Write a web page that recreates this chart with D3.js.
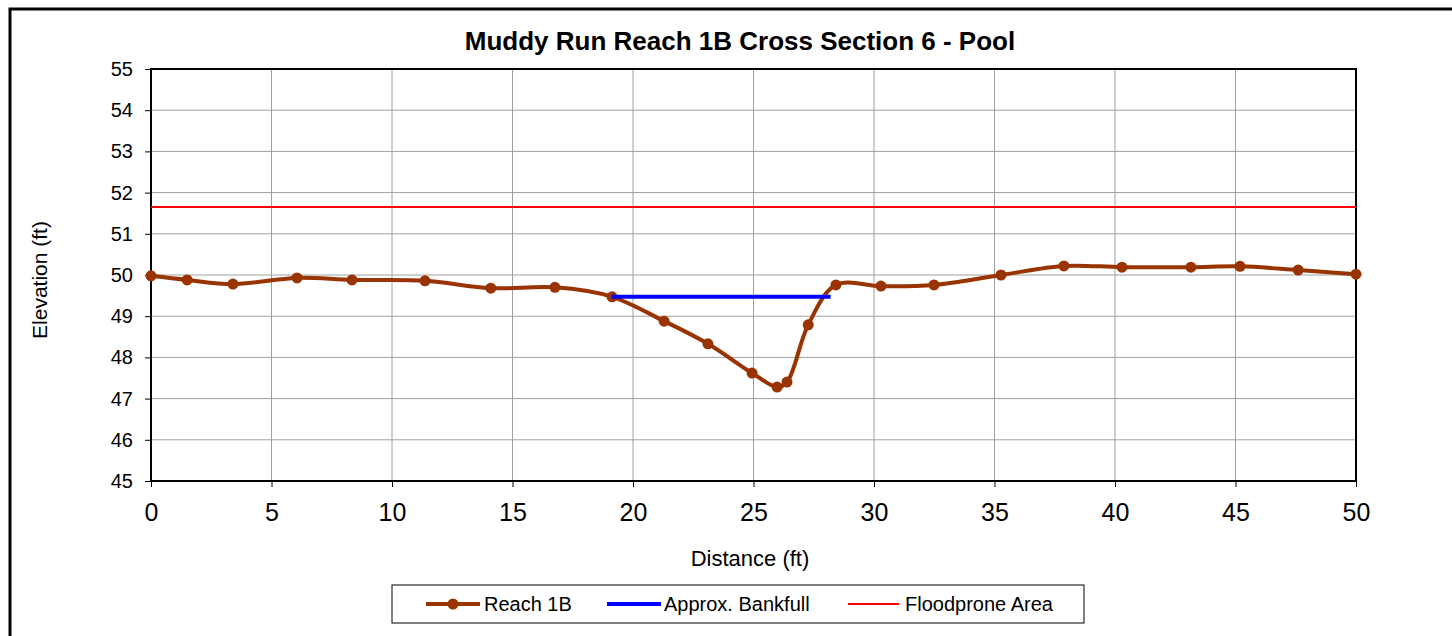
<!DOCTYPE html>
<html>
<head>
<meta charset="utf-8">
<script src="https://cdn.jsdelivr.net/npm/d3@7"></script>
<style>
  body { margin: 0; background: #fff; }
  svg { display: block; font-family: "Liberation Sans", Arial, sans-serif; }
</style>
</head>
<body>
<div id="chart"></div>
<script>
// Survey data
const distance  = [0, 1.5, 3.4, 6.06, 8.34, 11.37, 14.1, 16.76, 19.13, 21.29, 23.11, 24.94, 25.98, 26.39, 27.27, 28.42, 30.29, 32.49, 35.27, 37.88, 40.29, 43.15, 45.19, 47.6, 50];
const elevation = [49.98, 49.88, 49.78, 49.93, 49.88, 49.86, 49.68, 49.7, 49.47, 48.88, 48.33, 47.62, 47.28, 47.4, 48.79, 49.76, 49.73, 49.76, 50.0, 50.22, 50.19, 50.19, 50.21, 50.12, 50.02];
const bankfullX = [19.13, 28.2];
const bankfullY = [49.47, 49.47];
const floodX = [0, 50];
const floodY = [51.65, 51.65];
const xTicks = [0, 5, 10, 15, 20, 25, 30, 35, 40, 45, 50];
const yTicks = [45, 46, 47, 48, 49, 50, 51, 52, 53, 54, 55];
const legendLabels = ["Reach 1B", "Approx. Bankfull", "Floodprone Area"];

const W = 1452, H = 636;
const plot = { left: 151, right: 1356, top: 69, bottom: 481 };

const svg = d3.select("#chart").append("svg")
    .attr("width", W)
    .attr("height", H);

// outer chart border (cut off at right/bottom)
svg.append("rect")
    .attr("x", 10).attr("y", 9)
    .attr("width", W + 20).attr("height", H + 20)
    .attr("fill", "none")
    .attr("stroke", "#000")
    .attr("stroke-width", 3);

const x = d3.scaleLinear().domain([0, 50]).range([plot.left, plot.right]);
const y = d3.scaleLinear().domain([45, 55]).range([plot.bottom, plot.top]);

// gridlines
svg.append("g")
    .selectAll("line")
    .data(xTicks)
    .join("line")
    .attr("x1", d => x(d)).attr("x2", d => x(d))
    .attr("y1", plot.top).attr("y2", plot.bottom)
    .attr("stroke", "#a0a0a0").attr("stroke-width", 1);

svg.append("g")
    .selectAll("line")
    .data(yTicks)
    .join("line")
    .attr("x1", plot.left).attr("x2", plot.right)
    .attr("y1", d => y(d)).attr("y2", d => y(d))
    .attr("stroke", "#a0a0a0").attr("stroke-width", 1);

// axes
const yAxis = svg.append("g")
    .attr("transform", `translate(${plot.left},0)`)
    .call(d3.axisLeft(y).tickValues(yTicks).tickSize(6).tickPadding(12).tickFormat(d3.format("d")));
yAxis.select(".domain").remove();
yAxis.selectAll("line").attr("stroke", "#000");
yAxis.selectAll("text")
    .attr("font-size", 20)
    .attr("font-family", "Liberation Sans, Arial, sans-serif")
    .attr("fill", "#000");

const xAxis = svg.append("g")
    .attr("transform", `translate(0,${plot.bottom})`)
    .call(d3.axisBottom(x).tickValues(xTicks).tickSize(6).tickPadding(16).tickFormat(d3.format("d")));
xAxis.select(".domain").remove();
xAxis.selectAll("line").attr("stroke", "#000");
xAxis.selectAll("text")
    .attr("font-size", 25)
    .attr("font-family", "Liberation Sans, Arial, sans-serif")
    .attr("fill", "#000");

// plot frame
svg.append("rect")
    .attr("x", plot.left).attr("y", plot.top)
    .attr("width", plot.right - plot.left)
    .attr("height", plot.bottom - plot.top)
    .attr("fill", "none")
    .attr("stroke", "#000")
    .attr("stroke-width", 2);

// floodprone line
svg.append("path")
    .datum(d3.zip(floodX, floodY))
    .attr("d", d3.line().x(d => x(d[0])).y(d => y(d[1])))
    .attr("fill", "none")
    .attr("stroke", "#ff0000")
    .attr("stroke-width", 2);

// cross section
const pts = d3.zip(distance, elevation);
svg.append("path")
    .datum(pts)
    .attr("d", d3.line().x(d => x(d[0])).y(d => y(d[1])).curve(d3.curveCatmullRom.alpha(0.5)))
    .attr("fill", "none")
    .attr("stroke", "#993300")
    .attr("stroke-width", 4);

svg.append("g")
    .selectAll("circle")
    .data(pts)
    .join("circle")
    .attr("cx", d => x(d[0]))
    .attr("cy", d => y(d[1]))
    .attr("r", 5.5)
    .attr("fill", "#993300");

// bankfull line
svg.append("path")
    .datum(d3.zip(bankfullX, bankfullY))
    .attr("d", d3.line().x(d => x(d[0])).y(d => y(d[1])))
    .attr("fill", "none")
    .attr("stroke", "#0000ff")
    .attr("stroke-width", 4);

// titles
svg.append("text")
    .attr("x", 740).attr("y", 50)
    .attr("text-anchor", "middle")
    .attr("font-size", 26)
    .attr("font-weight", "bold")
    .text("Muddy Run Reach 1B Cross Section 6 - Pool");

svg.append("text")
    .attr("x", 750).attr("y", 566)
    .attr("text-anchor", "middle")
    .attr("font-size", 22)
    .text("Distance (ft)");

svg.append("text")
    .attr("transform", "translate(47,280) rotate(-90)")
    .attr("text-anchor", "middle")
    .attr("font-size", 21)
    .text("Elevation (ft)");

// legend
const legend = svg.append("g");
legend.append("rect")
    .attr("x", 392).attr("y", 585)
    .attr("width", 692).attr("height", 38)
    .attr("fill", "#fff")
    .attr("stroke", "#000")
    .attr("stroke-width", 1);

const legendItems = [
    { x1: 426, x2: 480, tx: 484, color: "#993300", w: 4, marker: true },
    { x1: 607, x2: 661, tx: 664, color: "#0000ff", w: 4, marker: false },
    { x1: 848, x2: 899, tx: 905, color: "#ff0000", w: 2, marker: false }
];
legendItems.forEach((it, i) => {
    legend.append("line")
        .attr("x1", it.x1).attr("x2", it.x2)
        .attr("y1", 604).attr("y2", 604)
        .attr("stroke", it.color)
        .attr("stroke-width", it.w);
    if (it.marker) {
        legend.append("circle")
            .attr("cx", (it.x1 + it.x2) / 2).attr("cy", 604)
            .attr("r", 5.5).attr("fill", it.color);
    }
    legend.append("text")
        .attr("x", it.tx).attr("y", 611)
        .attr("font-size", 20)
        .text(legendLabels[i]);
});
</script>
</body>
</html>
